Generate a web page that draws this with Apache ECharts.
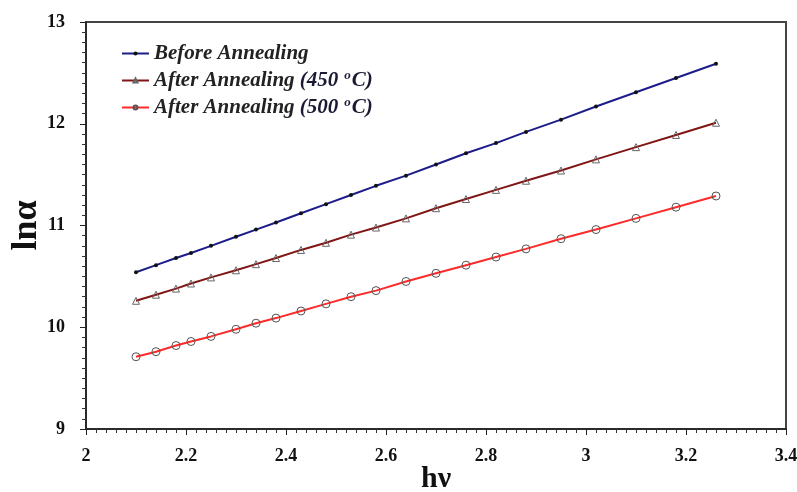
<!DOCTYPE html>
<html><head><meta charset="utf-8">
<script src="https://cdn.jsdelivr.net/npm/echarts@6/dist/echarts.min.js"></script>
<style>html,body{margin:0;padding:0;background:#fff}#c{width:797px;height:492px}</style>
</head><body><div id="c"></div>
<script>
const hv = [2.10, 2.14, 2.18, 2.21, 2.25, 2.30, 2.34, 2.38, 2.43, 2.48, 2.53, 2.58, 2.64, 2.70, 2.76, 2.82, 2.88, 2.95, 3.02, 3.10, 3.18, 3.26];
const beforeAnnealing = [10.54, 10.61, 10.68, 10.73, 10.80, 10.89, 10.96, 11.03, 11.12, 11.21, 11.30, 11.39, 11.49, 11.60, 11.71, 11.81, 11.92, 12.04, 12.17, 12.31, 12.45, 12.59];
const after450 = [10.26, 10.32, 10.38, 10.43, 10.49, 10.56, 10.62, 10.68, 10.76, 10.83, 10.91, 10.98, 11.07, 11.17, 11.26, 11.35, 11.44, 11.54, 11.65, 11.77, 11.89, 12.01];
const after500 = [9.71, 9.76, 9.82, 9.86, 9.91, 9.98, 10.04, 10.09, 10.16, 10.23, 10.30, 10.36, 10.45, 10.53, 10.61, 10.69, 10.77, 10.87, 10.96, 11.07, 11.18, 11.29];
const seriesNames = ['Before Annealing', 'After Annealing (450°C)', 'After Annealing (500°C)'];

const serif = '"Liberation Serif","DejaVu Serif",serif';
const pairs = a => hv.map((x, i) => [x, a[i]]);
const chart = echarts.init(document.getElementById('c'));
chart.setOption({
  animation: false,
  backgroundColor: '#fff',
  grid: {left: 86, right: 11, top: 22, bottom: 63, containLabel: false, outerBoundsMode: 'none',
    show: true, borderColor: '#444', borderWidth: 2, backgroundColor: 'transparent'},
  legend: {
    orient: 'vertical', left: 116, top: 38, itemGap: 5, itemWidth: 27, itemHeight: 5,
    data: seriesNames,
    formatter: function (name) {
      if (name === seriesNames[0]) return '{t|Before Annealing}';
      const m = name.match(/\((\d+)/);
      return '{t|After Annealing }{p|(' + m[1] + '}{s|o}{p|C)}';
    },
    textStyle: {
      fontFamily: serif, fontSize: 21, fontWeight: 'bold', fontStyle: 'italic', color: '#222',
      rich: {
        t: {fontFamily: serif, fontSize: 21, fontWeight: 'bold', fontStyle: 'italic', color: '#222', lineHeight: 23},
        p: {fontFamily: serif, fontSize: 21, fontWeight: 'bold', fontStyle: 'italic', color: '#1a1a33', lineHeight: 23},
        s: {fontFamily: serif, fontSize: 13, fontWeight: 'bold', color: '#1a1a33', verticalAlign: 'top', padding: [0, 1, 10, 6]}
      }
    }
  },
  xAxis: {
    type: 'value', min: 2, max: 3.4, interval: 0.2,
    name: 'hν', nameLocation: 'middle', nameGap: 35, nameMoveOverlap: false,
    nameTextStyle: {fontFamily: serif, fontSize: 30, fontWeight: 'bold', color: '#111'},
    axisLine: {onZero: false, lineStyle: {color: '#222', width: 1.5}},
    axisTick: {show: true, length: 6, lineStyle: {color: '#222'}},
    minorTick: {show: true, splitNumber: 10, length: 4, lineStyle: {color: '#333'}},
    splitLine: {show: false},
    axisLabel: {fontFamily: serif, fontSize: 18, fontWeight: 'bold', color: '#111', margin: 18,
      formatter: v => String(Math.round(v * 10) / 10)}
  },
  yAxis: {
    type: 'value', min: 9, max: 13, interval: 1,
    name: 'lnα', nameLocation: 'middle', nameGap: 41, nameRotate: 90, nameMoveOverlap: false,
    nameTextStyle: {fontFamily: serif, fontSize: 36, fontWeight: 'bold', color: '#111'},
    axisLine: {show: true, onZero: false, lineStyle: {color: '#222', width: 1.5}},
    axisTick: {show: true, length: 6, lineStyle: {color: '#222'}},
    minorTick: {show: true, splitNumber: 10, length: 4, lineStyle: {color: '#333'}},
    splitLine: {show: false},
    axisLabel: {fontFamily: serif, fontSize: 18, fontWeight: 'bold', color: '#111', margin: 21}
  },
  series: [
    {name: seriesNames[0], type: 'line', data: pairs(beforeAnnealing),
      lineStyle: {color: '#1c1c8a', width: 2}, symbol: 'circle', symbolSize: 4,
      itemStyle: {color: '#111', borderColor: '#111', borderWidth: 0}, color: '#1c1c8a'},
    {name: seriesNames[1], type: 'line', data: pairs(after450),
      lineStyle: {color: '#801515', width: 2}, symbol: 'triangle', symbolSize: 7,
      itemStyle: {color: 'rgba(255,255,255,0)', borderColor: '#666', borderWidth: 1}, color: '#801515'},
    {name: seriesNames[2], type: 'line', data: pairs(after500),
      lineStyle: {color: '#ff2a2a', width: 2}, symbol: 'circle', symbolSize: 8,
      itemStyle: {color: 'rgba(255,255,255,0)', borderColor: '#555', borderWidth: 1}, color: '#ff2a2a'}
  ]
});
</script></body></html>
